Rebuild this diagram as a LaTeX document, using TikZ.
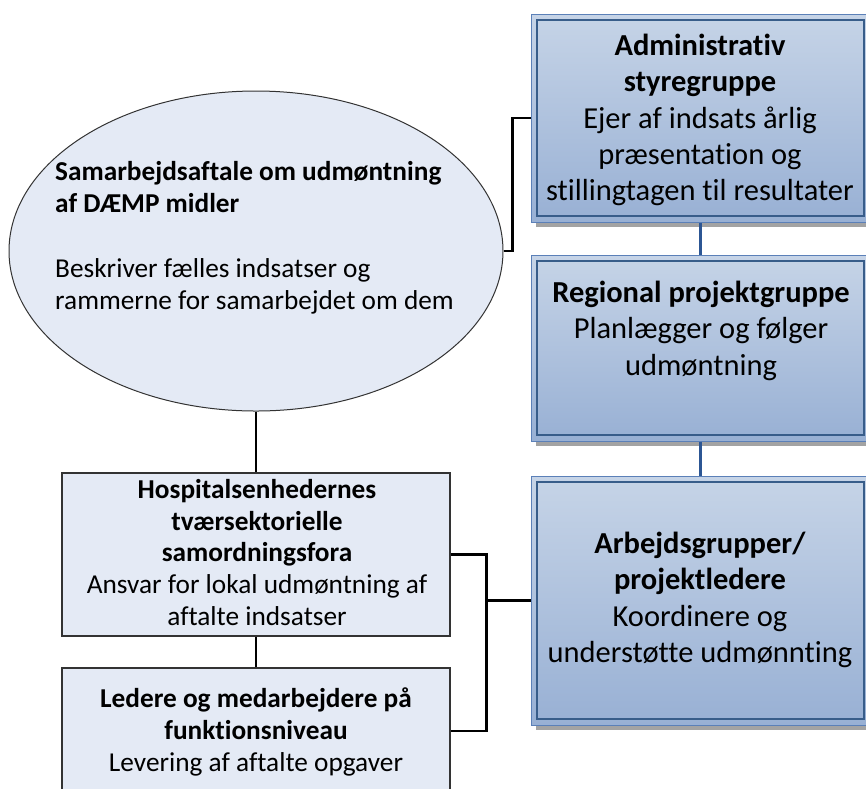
\documentclass[tikz,border=0pt]{standalone}
\usepackage{fontspec}
\setmainfont{Carlito}[Ligatures=NoCommon]
\usetikzlibrary{shapes.geometric,shadows}

\definecolor{boxtop}{HTML}{C6D4E7}
\definecolor{boxbot}{HTML}{98B0D4}
\definecolor{outerrim}{HTML}{5B80B8}
\definecolor{innerrim}{HTML}{385D8A}
\definecolor{linkblue}{HTML}{2C5694}
\definecolor{paleblue}{HTML}{E4EAF5}
\definecolor{rim}{HTML}{333333}

\tikzset{
  bluebox/.style={rectangle, draw=outerrim, line width=1pt,
    top color=boxtop, bottom color=boxbot, inner sep=0pt,
    drop shadow={shadow xshift=5pt, shadow yshift=-5pt, fill=black!36, opacity=1},
    path picture={\draw[innerrim, line width=1.3pt]
      ([shift={(6pt,-6pt)}]path picture bounding box.north west) rectangle
      ([shift={(-6pt,6pt)}]path picture bounding box.south east);}},
  palebox/.style={rectangle, draw=rim, line width=1.2pt, fill=paleblue, inner sep=0pt},
  bigtext/.style={inner sep=0pt, align=center, font=\fontsize{30.5pt}{36.3pt}\selectfont},
  smalltext/.style={inner sep=0pt, align=center, font=\fontsize{27.3pt}{31.8pt}\selectfont},
  blacklink/.style={draw=black, line width=2.6pt},
  bluelink/.style={draw=linkblue, line width=3.4pt},
}

\begin{document}
\begin{tikzpicture}[x=1pt,y=-1pt]
  \useasboundingbox (0,0) rectangle (866,788);
  \fill[white] (0,0) rectangle (866,788);

  % right-hand column
  \node[bluebox, minimum width=339pt, minimum height=208pt] (adm) at (700.5,118) {};
  \node[bluebox, minimum width=339pt, minimum height=186pt] (reg) at (700.5,348) {};
  \node[bluebox, minimum width=339pt, minimum height=249pt] (arb) at (700.5,600.5) {};

  \node[bigtext, anchor=north] (admtext) at (700,34)
    {\textbf{Administrativ}\\\textbf{styregruppe}\\Ejer af indsats årlig\\præsentation og\\stillingtagen til resultater};
  \node[bigtext, anchor=north] (regtext) at (701,281)
    {\textbf{Regional projektgruppe}\\Planlægger og følger\\udmøntning};
  \node[bigtext, anchor=north] (arbtext) at (700,532)
    {\textbf{Arbejdsgrupper/}\\\textbf{projektledere}\\Koordinere og\\understøtte udmønnting};

  % left-hand column
  \node[ellipse, draw=rim, line width=1pt, fill=paleblue, minimum width=494pt, minimum height=320pt, inner sep=0pt] (sam) at (256,251) {};
  \node[smalltext, align=left, anchor=north west] (samtext) at (55,161)
    {\textbf{Samarbejdsaftale om udmøntning}\\\textbf{af DÆMP midler}\\[34pt]Beskriver fælles indsatser og\\rammerne for samarbejdet om dem};

  \node[palebox, minimum width=388pt, minimum height=163pt] (hosp) at (256,554.5) {};
  \node[palebox, minimum width=388pt, minimum height=126pt] (led) at (256,731) {};

  \node[smalltext, anchor=north] (hosptext) at (257,479)
    {\textbf{Hospitalsenhedernes}\\\textbf{tværsektorielle}\\\textbf{samordningsfora}\\Ansvar for lokal udmøntning af\\aftalte indsatser};
  \node[smalltext, anchor=north] (ledtext) at (256,688)
    {\textbf{Ledere og medarbejdere på}\\\textbf{funktionsniveau}\\Levering af aftalte opgaver};

  % connectors
  \draw[blacklink] (sam.east) -- ++(9,0) |- (adm.west);
  \draw[bluelink] (adm.south) -- (reg.north);
  \draw[bluelink] (reg.south) -- (arb.north);
  \draw[blacklink] (sam.south) -- (hosp.north);
  \draw[blacklink] (hosp.south) -- (led.north);
  \draw[blacklink] (hosp.east) -- ++(36,0) coordinate (fork) |- (led.east);
  \draw[blacklink] (arb.west) -- (arb.west -| fork);
\end{tikzpicture}
\end{document}
